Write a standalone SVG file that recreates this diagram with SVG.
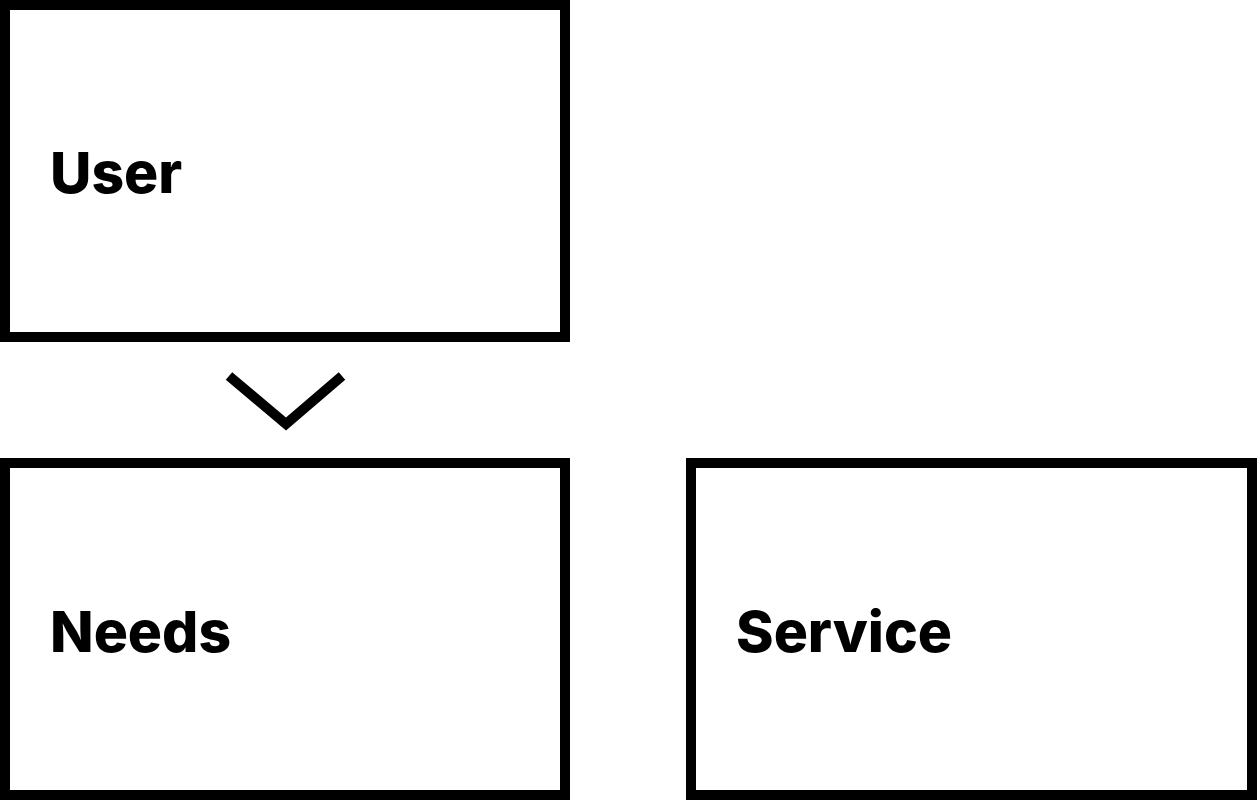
<svg xmlns="http://www.w3.org/2000/svg" width="1257" height="800" viewBox="0 0 1257 800">
<style>
.box{fill:#fff;stroke:#000;stroke-width:10}
.lbl{font-family:Inter,"Liberation Sans",sans-serif;font-weight:800;font-size:57px;fill:#000}
.conn{fill:none;stroke:#000;stroke-width:10;stroke-linecap:butt;stroke-linejoin:miter}
</style>
<rect width="1257" height="800" fill="#fff"/>
<g id="user">
<rect class="box" x="5" y="5" width="560" height="332"/>
<text class="lbl" x="50" y="193">User</text>
</g>
<g id="needs">
<rect class="box" x="5" y="463" width="560" height="332"/>
<text class="lbl" x="50" y="652">Needs</text>
</g>
<g id="service">
<rect class="box" x="691" y="463" width="561" height="332"/>
<text class="lbl" x="736" y="652">Service</text>
</g>
<g id="connectors">
<polyline class="conn" points="229,376 286,424 342,376"/>
</g>
</svg>
